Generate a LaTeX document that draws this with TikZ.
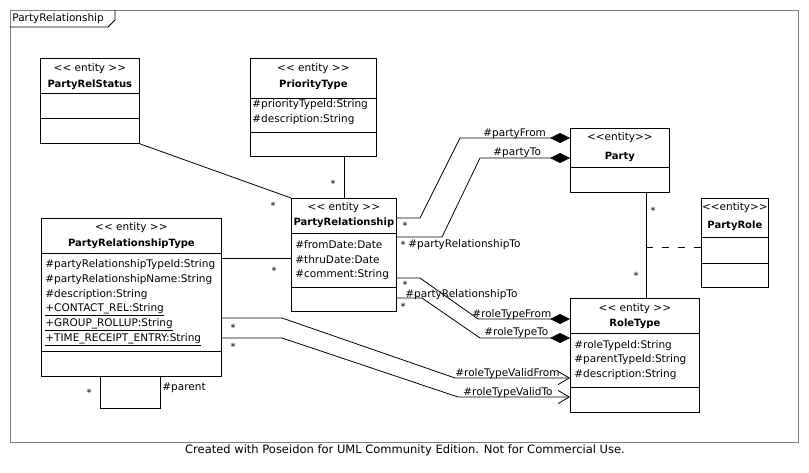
\documentclass[tikz,border=0pt]{standalone}
\usepackage{fontspec}
\setmainfont{DejaVu Sans}
\usetikzlibrary{arrows.meta}

\begin{document}
\begin{tikzpicture}[x=1pt, y=-1pt, line width=0.8pt,
    entity/.style={draw, anchor=north west, inner sep=0pt},
    stereo/.style={font=\fontsize{10.5}{12}\selectfont, inner sep=0pt},
    cname/.style={font=\fontsize{10}{12}\selectfont\bfseries, inner sep=0pt},
    attr/.style={font=\fontsize{10.5}{12}\selectfont, anchor=west, inner sep=0pt},
    endlabel/.style={font=\fontsize{10.5}{12}\selectfont, anchor=base west, inner sep=0pt},
    mult/.style={font=\fontsize{10}{12}\selectfont, inner sep=0pt},
    comp/.style={-{Diamond[length=20pt,width=10pt]}},
    nav/.style={-{Straight Barb[length=11pt,width=13pt,line width=0.8pt]}}]
    \useasboundingbox (0,0) rectangle (809,473);

    % Frame with its tab
    \draw[gray] (10,10) rectangle (798,442);
    \draw (10,27) -- (108,27) -- (115,20) -- (115,10);
    \node[attr] (frametitle) at (12,19) {PartyRelationship};

    % Class boxes
    \node[entity, minimum width=99, minimum height=85] (status) at (40,58) {};
    \node[entity, minimum width=126, minimum height=98] (prio) at (250,58) {};
    \node[entity, minimum width=105, minimum height=113] (prel) at (291,198) {};
    \node[entity, minimum width=180, minimum height=158] (reltype) at (41,218) {};
    \node[entity, minimum width=99, minimum height=64] (party) at (570,128) {};
    \node[entity, minimum width=67, minimum height=89] (partyrole) at (701,198) {};
    \node[entity, minimum width=129, minimum height=114] (roletype) at (570,298) {};

    % Compartment lines
    \foreach \n/\y in {status/93, status/118, prio/98, prio/132, prel/233, prel/287,
        reltype/253, reltype/351, party/167, partyrole/237, partyrole/263,
        roletype/333, roletype/387}
        \draw (\n.west |- 0,\y) -- (\n.east |- 0,\y);

    % Headers
    \node[stereo] (status-st) at (status.north |- 0,69) {<{}< entity >{}>};
    \node[cname] (status-nm) at (status.north |- 0,85) {PartyRelStatus};
    \node[stereo] (prio-st) at (prio.north |- 0,69) {<{}< entity >{}>};
    \node[cname] (prio-nm) at (prio.north |- 0,85) {PriorityType};
    \node[stereo] (prel-st) at (prel.north |- 0,208) {<{}< entity >{}>};
    \node[cname] (prel-nm) at (prel.north |- 0,223) {PartyRelationship};
    \node[stereo] (reltype-st) at (reltype.north |- 0,228) {<{}< entity >{}>};
    \node[cname] (reltype-nm) at (reltype.north |- 0,244) {PartyRelationshipType};
    \node[stereo] (party-st) at (party.north |- 0,138) {<{}<entity>{}>};
    \node[cname] (party-nm) at (party.north |- 0,157) {Party};
    \node[stereo] (partyrole-st) at (partyrole.north |- 0,208) {<{}<entity>{}>};
    \node[cname] (partyrole-nm) at (partyrole.north |- 0,226) {PartyRole};
    \node[stereo] (roletype-st) at (roletype.north |- 0,309) {<{}< entity >{}>};
    \node[cname] (roletype-nm) at (roletype.north |- 0,324) {RoleType};

    % Attributes
    \node[attr] (prio-a1) at (252,105) {\#priorityTypeId:String};
    \node[attr] (prio-a2) at (252,120) {\#description:String};
    \node[attr] (prel-a1) at (295,245) {\#fromDate:Date};
    \node[attr] (prel-a2) at (295,260) {\#thruDate:Date};
    \node[attr] (prel-a3) at (295,275) {\#comment:String};
    \node[attr] (reltype-a1) at (45,265) {\#partyRelationshipTypeId:String};
    \node[attr] (reltype-a2) at (45,280) {\#partyRelationshipName:String};
    \node[attr] (reltype-a3) at (45,295) {\#description:String};
    \node[attr] (reltype-a4) at (45,310) {\underline{+CONTACT\_REL:String}};
    \node[attr] (reltype-a5) at (45,325) {\underline{+GROUP\_ROLLUP:String}};
    \node[attr] (reltype-a6) at (45,340) {\underline{+TIME\_RECEIPT\_ENTRY:String}};
    \node[attr] (roletype-a1) at (574,346) {\#roleTypeId:String};
    \node[attr] (roletype-a2) at (574,360) {\#parentTypeId:String};
    \node[attr] (roletype-a3) at (574,375) {\#description:String};

    % Plain associations
    \draw (status.south east) -- (prel.north west);
    \draw (prel.north) -- (prel.north |- prio.south);
    \draw (reltype.east |- 0,258) -- (prel.west |- 0,258);
    \draw (reltype.south -| 100,0) -- ++(0,32) -| (reltype.south -| 160,0);
    \draw (party.south -| 646,0) -- (roletype.north -| 646,0);
    \coordinate (assoc) at (646,247);
    \draw[dash pattern=on 7pt off 9pt] (assoc) -- (partyrole.west |- assoc);

    % Compositions
    \draw[comp] (prel.east |- 0,218) -- (420,218) -- (460,138) -- (party.west |- 0,138);
    \draw[comp] (prel.east |- 0,237) -- (442,237) -- (480,158) -- (party.west |- 0,158);
    \draw[comp] (prel.east |- 0,278) -- (420,278) -- (478,319) -- (roletype.west |- 0,319);
    \draw[comp] (prel.east |- 0,298) -- (422,298) -- (480,338) -- (roletype.west |- 0,338);

    % Directed associations
    \draw[nav] (reltype.east |- 0,318) -- (282,318) -- (455,378) -- (roletype.west |- 0,378);
    \draw[nav] (reltype.east |- 0,338) -- (282,338) -- (458,397) -- (roletype.west |- 0,397);

    % Role names
    \node[endlabel] (l-pfrom) at (483,137) {\#partyFrom};
    \node[endlabel] (l-pto) at (493,156) {\#partyTo};
    \node[endlabel] (l-prto1) at (408,248) {\#partyRelationshipTo};
    \node[endlabel] (l-prto2) at (405,298) {\#partyRelationshipTo};
    \node[endlabel] (l-rfrom) at (472,317) {\#roleTypeFrom};
    \node[endlabel] (l-rto) at (484,335) {\#roleTypeTo};
    \node[endlabel] (l-vfrom) at (455,376) {\#roleTypeValidFrom};
    \node[endlabel] (l-vto) at (463,395) {\#roleTypeValidTo};
    \node[attr] (l-parent) at (162,388) {\#parent};

    % Multiplicities
    \foreach \x/\y [count=\i] in {273/206, 333/184, 274/271, 89/393, 233/328, 233/347,
        405/226, 403/245, 405/285, 403/307, 653/211, 636/276}
        \node[mult] (m\i) at (\x,\y) {*};

    % Footer
    \node[font=\fontsize{11.5}{13}\selectfont] (footer) at (405,450)
        {Created with Poseidon for UML Community Edition. Not for Commercial Use.};
\end{tikzpicture}
\end{document}
